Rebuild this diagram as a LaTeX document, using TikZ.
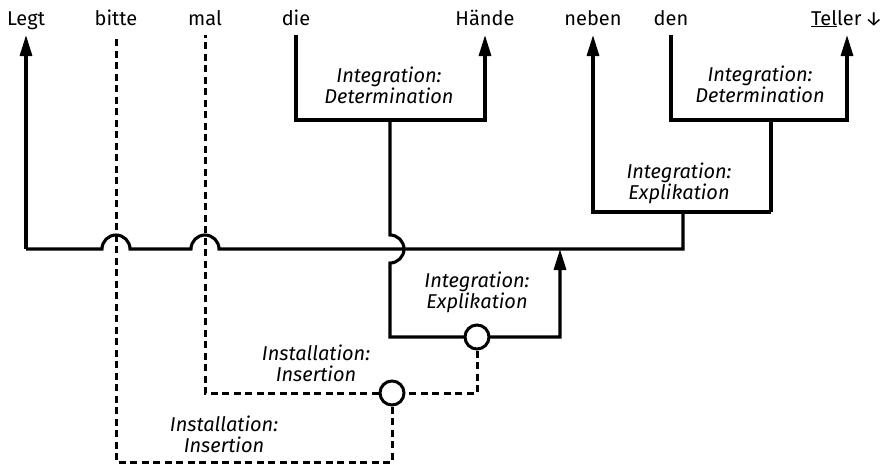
\documentclass[tikz,border=0pt]{standalone}
\usepackage{fontspec}
\setmainfont{Fira Sans}
\usetikzlibrary{arrows.meta}

\tikzstyle{word}=[anchor=base, inner sep=0pt, outer sep=10pt, text depth=0pt, font=\fontsize{20}{21}\selectfont]
\tikzstyle{relation}=[align=center, inner sep=0pt, font=\fontsize{20}{21}\selectfont\itshape]
\tikzstyle{link}=[line width=3.1pt]
\tikzstyle{head}=[link, -{Triangle[length=21pt, width=12pt]}]
\tikzstyle{insert}=[line width=3pt, dash pattern=on 7pt off 4.5pt]
\tikzstyle{junction}=[circle, draw, fill=white, line width=3pt, minimum size=24pt, inner sep=0pt]

\begin{document}
\begin{tikzpicture}[x=1pt, y=1pt]
      \useasboundingbox (0,0) rectangle (882,-467);

      \node (legt) at (26,-25) [word] {Legt};
      \node (bitte) at (116,-25) [word] {bitte};
      \node (mal) at (205,-25) [word] {mal};
      \node (die) at (296,-25) [word] {die};
      \node (haende) at (485,-25) [word] {Hände};
      \node (neben) at (593,-25) [word] {neben};
      \node (den) at (671,-25) [word] {den};
      \node (teller) at (847,-25) [word] {\underline{Tel}ler\,↓};

      \node (det-a) at (389,-85) [relation] {Integration:\\Determination};
      \node (det-b) at (760,-84) [relation] {Integration:\\Determination};
      \node (expl-a) at (679,-183) [relation] {Integration:\\Explikation};
      \node (expl-b) at (477,-292) [relation] {Integration:\\Explikation};
      \node (ins-a) at (316,-363) [relation] {Installation:\\Insertion};
      \node (ins-b) at (224,-434) [relation] {Installation:\\Insertion};

      \coordinate (main-left) at (26,-249);
      \coordinate (main-right) at (683,-249);
      \coordinate (main-in) at (560,-249);
      \coordinate (det-a-left) at (296,-120);
      \coordinate (det-a-right) at (485,-120);
      \coordinate (det-a-stem) at (390,-120);
      \coordinate (expl-b-left) at (390,-337);
      \coordinate (expl-b-right) at (560,-337);
      \coordinate (expl-a-left) at (593,-212);
      \coordinate (expl-a-right) at (771,-212);
      \coordinate (expl-a-stem) at (683,-212);
      \coordinate (det-b-left) at (671,-120);
      \coordinate (det-b-right) at (847,-120);
      \coordinate (det-b-stem) at (771,-120);
      \coordinate (ins-a-corner) at (477,-393);
      \coordinate (ins-a-left) at (205,-393);
      \coordinate (ins-b-right) at (392,-462);
      \coordinate (ins-b-left) at (116,-462);

      \draw[link] (main-left) -- ([xshift=-14pt]bitte |- main-left)
            arc[start angle=180, end angle=0, radius=14pt]
            -- ([xshift=-14pt]mal |- main-left)
            arc[start angle=180, end angle=0, radius=14pt]
            -- (main-right) -- (expl-a-stem);
      \draw[head] (main-left) -- (legt.south);
      \draw[head] (die.south) -- (det-a-left) -- (det-a-right) -- (haende.south);
      \draw[head] (det-a-stem) -- ([yshift=14pt]det-a-stem |- main-left)
            arc[start angle=90, end angle=-90, radius=14pt]
            -- (expl-b-left) -- (expl-b-right) -- (main-in);
      \draw[head] (expl-a-right) -- (expl-a-left) -- (neben.south);
      \draw[link] (det-b-stem) -- (expl-a-right);
      \draw[head] (den.south) -- (det-b-left) -- (det-b-right) -- (teller.south);

      \node (join-a) at (477,-337) [junction] {};
      \node (join-b) at (392,-393) [junction] {};

      \draw[insert] (join-a) -- (ins-a-corner) -- (join-b);
      \draw[insert] (join-b) -- (ins-a-left) -- (mal.south);
      \draw[insert] (join-b) -- (ins-b-right) -- (ins-b-left) -- (bitte.south);
\end{tikzpicture}
\end{document}
